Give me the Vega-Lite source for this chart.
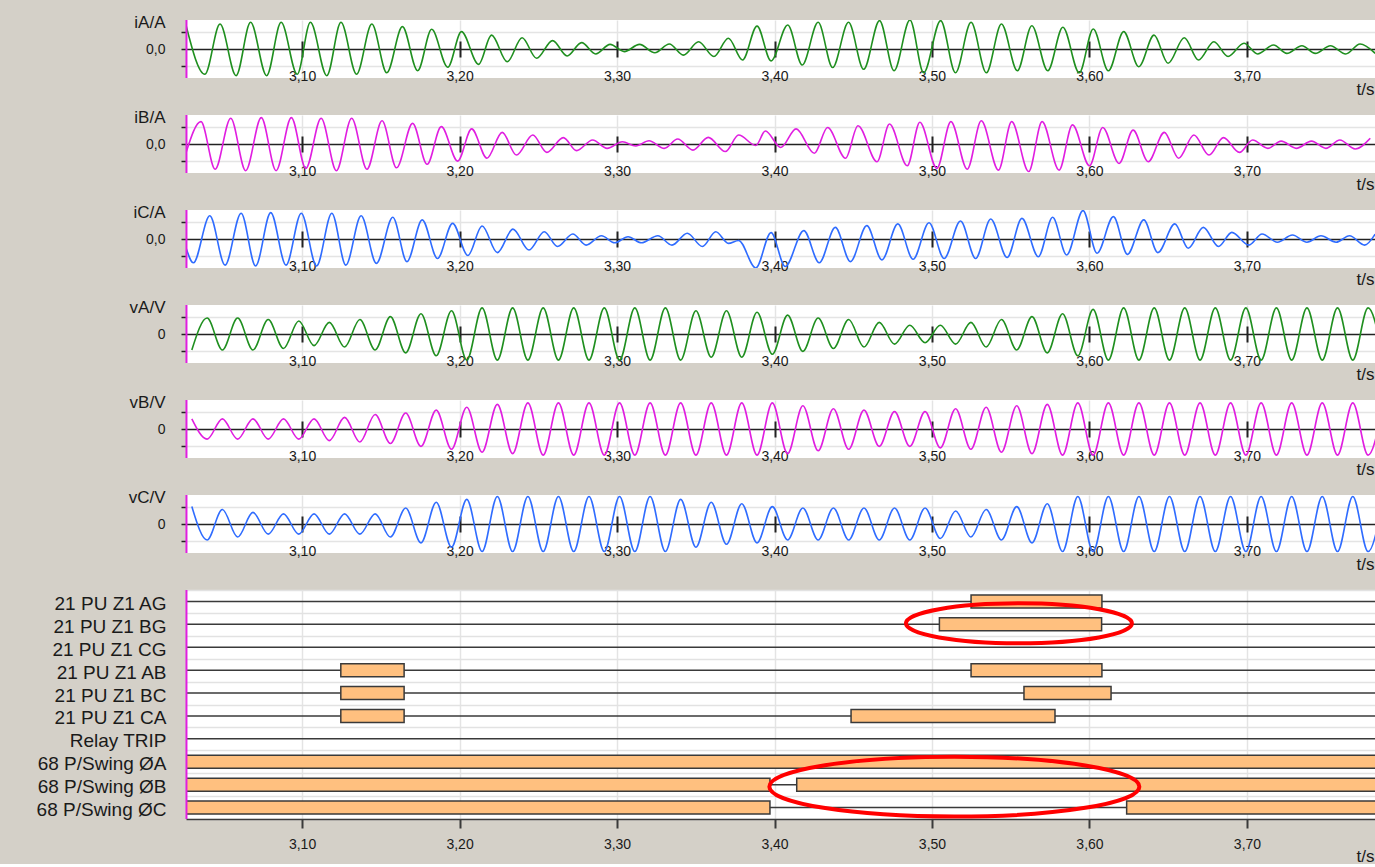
{
"$schema": "https://vega.github.io/schema/vega-lite/v6.json",
"background": "#d4d0c8",
"padding": {"left": 36, "top": 13, "right": 0, "bottom": 0},
"autosize": {"type": "pad"},
"bounds": "flush",
"spacing": 37,
"config": {
  "font": "Liberation Sans",
  "view": {"fill": "white", "stroke": null},
  "axis": {"labelColor": "#1a1a1a", "titleColor": "#1a1a1a", "titleFontWeight": "normal", "labelFont": "Liberation Sans", "titleFont": "Liberation Sans"}
},
"datasets": {
  "cursor": [{"t": 3.0266}],
  "iA": [{"t":3.0263,"v":0.82},{"t":3.0383,"v":-0.87},{"t":3.0479,"v":0.86},{"t":3.0581,"v":-0.92},{"t":3.0673,"v":0.92},{"t":3.0775,"v":-0.92},{"t":3.0867,"v":0.92},{"t":3.0969,"v":-0.87},{"t":3.1053,"v":0.92},{"t":3.1157,"v":-0.92},{"t":3.1247,"v":0.92},{"t":3.1346,"v":-0.87},{"t":3.1443,"v":0.86},{"t":3.1538,"v":-0.82},{"t":3.1637,"v":0.77},{"t":3.1734,"v":-0.75},{"t":3.1823,"v":0.68},{"t":3.1925,"v":-0.63},{"t":3.2012,"v":0.6},{"t":3.2121,"v":-0.53},{"t":3.2203,"v":0.48},{"t":3.2303,"v":-0.44},{"t":3.2397,"v":0.39},{"t":3.2489,"v":-0.32},{"t":3.2591,"v":0.29},{"t":3.2683,"v":-0.24},{"t":3.2775,"v":0.22},{"t":3.2864,"v":-0.17},{"t":3.2956,"v":0.16},{"t":3.3046,"v":-0.09},{"t":3.3143,"v":0.16},{"t":3.324,"v":-0.13},{"t":3.3332,"v":0.17},{"t":3.3421,"v":-0.21},{"t":3.3518,"v":0.25},{"t":3.3615,"v":-0.26},{"t":3.3707,"v":0.37},{"t":3.3797,"v":-0.38},{"t":3.3889,"v":0.79},{"t":3.3978,"v":-0.41},{"t":3.4084,"v":0.83},{"t":3.4176,"v":-0.55},{"t":3.4277,"v":0.92},{"t":3.4369,"v":-0.64},{"t":3.447,"v":0.92},{"t":3.4566,"v":-0.7},{"t":3.4667,"v":0.98},{"t":3.4759,"v":-0.75},{"t":3.486,"v":1.0},{"t":3.4947,"v":-0.82},{"t":3.5055,"v":0.98},{"t":3.5149,"v":-0.82},{"t":3.5248,"v":0.92},{"t":3.5345,"v":-0.82},{"t":3.5441,"v":0.86},{"t":3.5542,"v":-0.75},{"t":3.5634,"v":0.8},{"t":3.5735,"v":-0.75},{"t":3.5831,"v":0.75},{"t":3.5935,"v":-0.82},{"t":3.6024,"v":0.69},{"t":3.612,"v":-0.75},{"t":3.6217,"v":0.6},{"t":3.6313,"v":-0.61},{"t":3.641,"v":0.48},{"t":3.6499,"v":-0.49},{"t":3.6602,"v":0.39},{"t":3.6692,"v":-0.38},{"t":3.679,"v":0.25},{"t":3.688,"v":-0.26},{"t":3.6981,"v":0.2},{"t":3.7067,"v":-0.17},{"t":3.7169,"v":0.14},{"t":3.7253,"v":-0.15},{"t":3.7349,"v":0.11},{"t":3.7434,"v":-0.15},{"t":3.753,"v":0.11},{"t":3.7627,"v":-0.17},{"t":3.7718,"v":0.17},{"t":3.7814,"v":-0.15}],
  "iB": [{"t":3.0263,"v":-0.3},{"t":3.0358,"v":0.77},{"t":3.0448,"v":-0.87},{"t":3.0547,"v":0.89},{"t":3.0642,"v":-0.92},{"t":3.0741,"v":0.91},{"t":3.0835,"v":-0.92},{"t":3.0932,"v":0.91},{"t":3.1024,"v":-0.84},{"t":3.1121,"v":0.89},{"t":3.1218,"v":-0.92},{"t":3.1315,"v":0.89},{"t":3.1412,"v":-0.87},{"t":3.1508,"v":0.8},{"t":3.16,"v":-0.82},{"t":3.1702,"v":0.71},{"t":3.1794,"v":-0.7},{"t":3.1884,"v":0.6},{"t":3.1988,"v":-0.59},{"t":3.2077,"v":0.52},{"t":3.2174,"v":-0.49},{"t":3.2271,"v":0.4},{"t":3.2361,"v":-0.38},{"t":3.2465,"v":0.31},{"t":3.2554,"v":-0.29},{"t":3.2659,"v":0.22},{"t":3.2743,"v":-0.23},{"t":3.2845,"v":0.14},{"t":3.2937,"v":-0.15},{"t":3.3034,"v":0.08},{"t":3.3119,"v":-0.07},{"t":3.3203,"v":0.11},{"t":3.33,"v":-0.15},{"t":3.3385,"v":0.17},{"t":3.3482,"v":-0.21},{"t":3.3579,"v":0.23},{"t":3.3688,"v":-0.26},{"t":3.3772,"v":0.31},{"t":3.3881,"v":-0.05},{"t":3.3942,"v":0.45},{"t":3.404,"v":-0.12},{"t":3.4137,"v":0.52},{"t":3.4253,"v":-0.32},{"t":3.4337,"v":0.57},{"t":3.4451,"v":-0.49},{"t":3.453,"v":0.63},{"t":3.4651,"v":-0.61},{"t":3.473,"v":0.69},{"t":3.4843,"v":-0.75},{"t":3.4923,"v":0.75},{"t":3.5031,"v":-0.84},{"t":3.512,"v":0.77},{"t":3.5224,"v":-0.87},{"t":3.5313,"v":0.8},{"t":3.5422,"v":-0.9},{"t":3.5506,"v":0.77},{"t":3.5614,"v":-0.95},{"t":3.5699,"v":0.77},{"t":3.5807,"v":-0.9},{"t":3.5892,"v":0.66},{"t":3.6,"v":-0.75},{"t":3.6084,"v":0.57},{"t":3.6188,"v":-0.67},{"t":3.6277,"v":0.48},{"t":3.6373,"v":-0.61},{"t":3.6475,"v":0.4},{"t":3.6566,"v":-0.49},{"t":3.6663,"v":0.31},{"t":3.6759,"v":-0.38},{"t":3.6851,"v":0.22},{"t":3.6952,"v":-0.29},{"t":3.7036,"v":0.14},{"t":3.7133,"v":-0.15},{"t":3.7217,"v":0.1},{"t":3.7313,"v":-0.15},{"t":3.741,"v":0.1},{"t":3.7501,"v":-0.15},{"t":3.759,"v":0.14},{"t":3.7687,"v":-0.17},{"t":3.7783,"v":0.2}],
  "iC": [{"t":3.0263,"v":-0.3},{"t":3.031,"v":-0.82},{"t":3.0414,"v":0.8},{"t":3.0511,"v":-0.9},{"t":3.0613,"v":0.89},{"t":3.0705,"v":-0.93},{"t":3.0801,"v":0.91},{"t":3.0898,"v":-0.9},{"t":3.0995,"v":0.89},{"t":3.1092,"v":-0.93},{"t":3.1189,"v":0.89},{"t":3.1278,"v":-0.9},{"t":3.1375,"v":0.8},{"t":3.1472,"v":-0.84},{"t":3.1576,"v":0.75},{"t":3.1666,"v":-0.78},{"t":3.1763,"v":0.66},{"t":3.186,"v":-0.67},{"t":3.1956,"v":0.54},{"t":3.2053,"v":-0.57},{"t":3.2143,"v":0.45},{"t":3.224,"v":-0.47},{"t":3.2339,"v":0.34},{"t":3.2441,"v":-0.38},{"t":3.2538,"v":0.25},{"t":3.2622,"v":-0.26},{"t":3.2719,"v":0.17},{"t":3.2804,"v":-0.21},{"t":3.2901,"v":0.11},{"t":3.2985,"v":-0.13},{"t":3.307,"v":0.08},{"t":3.3155,"v":-0.13},{"t":3.3259,"v":0.11},{"t":3.3349,"v":-0.21},{"t":3.3446,"v":0.2},{"t":3.3542,"v":-0.26},{"t":3.3627,"v":0.25},{"t":3.3707,"v":-0.15},{"t":3.3772,"v":-0.05},{"t":3.3881,"v":-1.0},{"t":3.3978,"v":0.22},{"t":3.4068,"v":-0.95},{"t":3.4186,"v":0.29},{"t":3.4284,"v":-0.82},{"t":3.4386,"v":0.4},{"t":3.4482,"v":-0.78},{"t":3.4586,"v":0.46},{"t":3.4682,"v":-0.72},{"t":3.4783,"v":0.52},{"t":3.488,"v":-0.7},{"t":3.4981,"v":0.56},{"t":3.5077,"v":-0.67},{"t":3.5181,"v":0.62},{"t":3.5277,"v":-0.67},{"t":3.5373,"v":0.69},{"t":3.5477,"v":-0.64},{"t":3.5571,"v":0.71},{"t":3.5675,"v":-0.61},{"t":3.5766,"v":0.75},{"t":3.5855,"v":-0.55},{"t":3.5959,"v":0.98},{"t":3.6048,"v":-0.49},{"t":3.6152,"v":0.77},{"t":3.6241,"v":-0.53},{"t":3.6345,"v":0.66},{"t":3.6434,"v":-0.47},{"t":3.6542,"v":0.52},{"t":3.6627,"v":-0.32},{"t":3.6723,"v":0.4},{"t":3.6819,"v":-0.26},{"t":3.6904,"v":0.23},{"t":3.7012,"v":-0.21},{"t":3.7096,"v":0.17},{"t":3.7193,"v":-0.11},{"t":3.7289,"v":0.14},{"t":3.7381,"v":-0.11},{"t":3.747,"v":0.11},{"t":3.7566,"v":-0.11},{"t":3.7651,"v":0.11},{"t":3.7747,"v":-0.21},{"t":3.7814,"v":0.17}],
  "volt": [{"t":3.03,"a":-0.55,"b":0.35,"c":0.6},{"t":3.0397,"a":0.55,"b":-0.35,"c":-0.55},{"t":3.0494,"a":-0.55,"b":0.35,"c":0.5},{"t":3.0591,"a":0.55,"b":-0.35,"c":-0.45},{"t":3.0688,"a":-0.55,"b":0.35,"c":0.4},{"t":3.0785,"a":0.5,"b":-0.35,"c":-0.35},{"t":3.0882,"a":-0.5,"b":0.35,"c":0.35},{"t":3.0979,"a":0.45,"b":-0.35,"c":-0.35},{"t":3.1076,"a":-0.4,"b":0.35,"c":0.35},{"t":3.1173,"a":0.4,"b":-0.4,"c":-0.35},{"t":3.127,"a":-0.45,"b":0.4,"c":0.35},{"t":3.1367,"a":0.5,"b":-0.45,"c":-0.35},{"t":3.1464,"a":-0.55,"b":0.5,"c":0.35},{"t":3.1561,"a":0.6,"b":-0.5,"c":-0.45},{"t":3.1658,"a":-0.65,"b":0.55,"c":0.55},{"t":3.1755,"a":0.7,"b":-0.6,"c":-0.65},{"t":3.1852,"a":-0.75,"b":0.65,"c":0.75},{"t":3.1949,"a":0.8,"b":-0.7,"c":-0.8},{"t":3.2046,"a":-0.9,"b":0.75,"c":0.85},{"t":3.2143,"a":0.9,"b":-0.8,"c":-0.95},{"t":3.224,"a":-0.9,"b":0.85,"c":0.95},{"t":3.2337,"a":0.9,"b":-0.85,"c":-0.95},{"t":3.2434,"a":-0.9,"b":0.9,"c":0.95},{"t":3.2531,"a":0.9,"b":-0.9,"c":-0.95},{"t":3.2628,"a":-0.9,"b":0.9,"c":0.95},{"t":3.2725,"a":0.9,"b":-0.9,"c":-0.95},{"t":3.2822,"a":-0.9,"b":0.9,"c":0.95},{"t":3.2919,"a":0.9,"b":-0.9,"c":-0.95},{"t":3.3016,"a":-0.9,"b":0.9,"c":0.95},{"t":3.3113,"a":0.9,"b":-0.9,"c":-0.95},{"t":3.321,"a":-0.9,"b":0.9,"c":0.95},{"t":3.3307,"a":0.9,"b":-0.9,"c":-0.95},{"t":3.3404,"a":-0.9,"b":0.9,"c":0.85},{"t":3.3501,"a":0.8,"b":-0.9,"c":-0.8},{"t":3.3598,"a":-0.8,"b":0.9,"c":0.75},{"t":3.3695,"a":0.8,"b":-0.9,"c":-0.7},{"t":3.3792,"a":-0.8,"b":0.9,"c":0.7},{"t":3.3889,"a":0.75,"b":-0.9,"c":-0.65},{"t":3.3986,"a":-0.7,"b":0.9,"c":0.6},{"t":3.4083,"a":0.65,"b":-0.85,"c":-0.55},{"t":3.418,"a":-0.6,"b":0.8,"c":0.55},{"t":3.4277,"a":0.55,"b":-0.75,"c":-0.55},{"t":3.4374,"a":-0.5,"b":0.7,"c":0.55},{"t":3.4471,"a":0.5,"b":-0.7,"c":-0.55},{"t":3.4568,"a":-0.45,"b":0.65,"c":0.55},{"t":3.4665,"a":0.4,"b":-0.6,"c":-0.55},{"t":3.4762,"a":-0.35,"b":0.6,"c":0.55},{"t":3.4859,"a":0.3,"b":-0.6,"c":-0.55},{"t":3.4956,"a":-0.3,"b":0.6,"c":0.55},{"t":3.5053,"a":0.3,"b":-0.65,"c":-0.5},{"t":3.515,"a":-0.35,"b":0.7,"c":0.45},{"t":3.5247,"a":0.4,"b":-0.7,"c":-0.45},{"t":3.5344,"a":-0.45,"b":0.75,"c":0.5},{"t":3.5441,"a":0.5,"b":-0.8,"c":-0.55},{"t":3.5538,"a":-0.55,"b":0.8,"c":0.6},{"t":3.5635,"a":0.6,"b":-0.85,"c":-0.65},{"t":3.5732,"a":-0.65,"b":0.85,"c":0.7},{"t":3.5829,"a":0.7,"b":-0.9,"c":-0.95},{"t":3.5926,"a":-0.75,"b":0.9,"c":0.95},{"t":3.6023,"a":0.85,"b":-0.9,"c":-0.95},{"t":3.612,"a":-0.9,"b":0.9,"c":0.95},{"t":3.6217,"a":0.9,"b":-0.9,"c":-0.95},{"t":3.6314,"a":-0.9,"b":0.9,"c":0.95},{"t":3.6411,"a":0.9,"b":-0.9,"c":-0.95},{"t":3.6508,"a":-0.9,"b":0.9,"c":0.95},{"t":3.6605,"a":0.9,"b":-0.9,"c":-0.95},{"t":3.6702,"a":-0.9,"b":0.9,"c":0.95},{"t":3.6799,"a":0.9,"b":-0.9,"c":-0.95},{"t":3.6896,"a":-0.9,"b":0.9,"c":0.95},{"t":3.6993,"a":0.9,"b":-0.9,"c":-0.95},{"t":3.709,"a":-0.9,"b":0.9,"c":0.95},{"t":3.7187,"a":0.9,"b":-0.9,"c":-0.95},{"t":3.7284,"a":-0.9,"b":0.9,"c":0.95},{"t":3.7381,"a":0.9,"b":-0.9,"c":-0.95},{"t":3.7478,"a":-0.9,"b":0.9,"c":0.95},{"t":3.7575,"a":0.9,"b":-0.9,"c":-0.95},{"t":3.7672,"a":-0.9,"b":0.9,"c":0.95},{"t":3.7769,"a":0.9,"b":-0.9,"c":-0.95},{"t":3.7866,"a":-0.9,"b":0.9,"c":0.95}],
  "rows": [{"ch":"21 PU Z1 AG"},{"ch":"21 PU Z1 BG"},{"ch":"21 PU Z1 CG"},{"ch":"21 PU Z1 AB"},{"ch":"21 PU Z1 BC"},{"ch":"21 PU Z1 CA"},{"ch":"Relay TRIP"},{"ch":"68 P/Swing ØA"},{"ch":"68 P/Swing ØB"},{"ch":"68 P/Swing ØC"}],
  "dig": [
    {"ch":"21 PU Z1 AG","t0":3.5248,"t1":3.6079},
    {"ch":"21 PU Z1 BG","t0":3.5047,"t1":3.6077},
    {"ch":"21 PU Z1 AB","t0":3.1246,"t1":3.1648},
    {"ch":"21 PU Z1 AB","t0":3.5248,"t1":3.6079},
    {"ch":"21 PU Z1 BC","t0":3.1246,"t1":3.1648},
    {"ch":"21 PU Z1 BC","t0":3.5584,"t1":3.6137},
    {"ch":"21 PU Z1 CA","t0":3.1246,"t1":3.1648},
    {"ch":"21 PU Z1 CA","t0":3.4486,"t1":3.5781},
    {"ch":"68 P/Swing ØA","t0":3.02,"t1":3.79},
    {"ch":"68 P/Swing ØB","t0":3.02,"t1":3.3971},
    {"ch":"68 P/Swing ØB","t0":3.4141,"t1":3.79},
    {"ch":"68 P/Swing ØC","t0":3.02,"t1":3.3971},
    {"ch":"68 P/Swing ØC","t0":3.6236,"t1":3.79}
  ],
  "ell1": [{"t":3.5552,"ch":"21 PU Z1 BG"}],
  "ell2": [{"t":3.5142,"ch":"68 P/Swing ØB"}]
},
"vconcat": [
  {"width":1189,"height":58,"layer":[
    {"data":{"name":"iA"},"mark":{"type":"line","interpolate":"monotone","color":"#1f8f1f","strokeWidth":1.6,"clip":true},
     "encoding":{
      "x":{"field":"t","type":"quantitative","scale":{"domain":[3.0263,3.7813],"nice":false,"zero":false},
        "axis":{"values":[3.1,3.2,3.3,3.4,3.5,3.6,3.7],"labelExpr":"replace(format(datum.value,'.2f'),'.',',')","orient":"bottom","offset":-37,"domain":false,"tickSize":16,"tickWidth":2,"tickColor":"#222222","labelFontSize":14,"labelPadding":12,"grid":true,"gridColor":"#e4e4e4","gridWidth":1.5,"title":"t/s","titleFontSize":17,"titleAlign":"right","titleAnchor":"end","titleX":1188,"titleY":48,"titleBaseline":"middle"}},
      "y":{"field":"v","type":"quantitative","scale":{"domain":[-1,1],"nice":false,"zero":false},
        "axis":{"values":[-0.59,0,0.59],"labelExpr":"datum.value === 0 ? '0,0' : ''","domain":false,"tickSize":5,"tickWidth":1.5,"tickColor":"#222222","labelFontSize":14,"labelPadding":16,"grid":true,"gridColor":{"condition":{"test":"datum.value === 0","value":"#222222"},"value":"#e4e4e4"},"gridWidth":1.6,"title":"iA/A","titleAngle":0,"titleAlign":"right","titleBaseline":"middle","titleX":-21,"titleY":2,"titleFontSize":17}}
     }},
    {"data":{"name":"cursor"},"mark":{"type":"rule","color":"#e01ee0","strokeWidth":2},"encoding":{"x":{"field":"t","type":"quantitative","scale":{"domain":[3.0263,3.7813],"nice":false,"zero":false}}}}
  ]},
  {"width":1189,"height":58,"layer":[
    {"data":{"name":"iB"},"mark":{"type":"line","interpolate":"monotone","color":"#e01ee0","strokeWidth":1.6,"clip":true},
     "encoding":{
      "x":{"field":"t","type":"quantitative","scale":{"domain":[3.0263,3.7813],"nice":false,"zero":false},
        "axis":{"values":[3.1,3.2,3.3,3.4,3.5,3.6,3.7],"labelExpr":"replace(format(datum.value,'.2f'),'.',',')","orient":"bottom","offset":-37,"domain":false,"tickSize":16,"tickWidth":2,"tickColor":"#222222","labelFontSize":14,"labelPadding":12,"grid":true,"gridColor":"#e4e4e4","gridWidth":1.5,"title":"t/s","titleFontSize":17,"titleAlign":"right","titleAnchor":"end","titleX":1188,"titleY":48,"titleBaseline":"middle"}},
      "y":{"field":"v","type":"quantitative","scale":{"domain":[-1,1],"nice":false,"zero":false},
        "axis":{"values":[-0.59,0,0.59],"labelExpr":"datum.value === 0 ? '0,0' : ''","domain":false,"tickSize":5,"tickWidth":1.5,"tickColor":"#222222","labelFontSize":14,"labelPadding":16,"grid":true,"gridColor":{"condition":{"test":"datum.value === 0","value":"#222222"},"value":"#e4e4e4"},"gridWidth":1.6,"title":"iB/A","titleAngle":0,"titleAlign":"right","titleBaseline":"middle","titleX":-21,"titleY":2,"titleFontSize":17}}
     }},
    {"data":{"name":"cursor"},"mark":{"type":"rule","color":"#e01ee0","strokeWidth":2},"encoding":{"x":{"field":"t","type":"quantitative","scale":{"domain":[3.0263,3.7813],"nice":false,"zero":false}}}}
  ]},
  {"width":1189,"height":58,"layer":[
    {"data":{"name":"iC"},"mark":{"type":"line","interpolate":"monotone","color":"#2f6cff","strokeWidth":1.6,"clip":true},
     "encoding":{
      "x":{"field":"t","type":"quantitative","scale":{"domain":[3.0263,3.7813],"nice":false,"zero":false},
        "axis":{"values":[3.1,3.2,3.3,3.4,3.5,3.6,3.7],"labelExpr":"replace(format(datum.value,'.2f'),'.',',')","orient":"bottom","offset":-37,"domain":false,"tickSize":16,"tickWidth":2,"tickColor":"#222222","labelFontSize":14,"labelPadding":12,"grid":true,"gridColor":"#e4e4e4","gridWidth":1.5,"title":"t/s","titleFontSize":17,"titleAlign":"right","titleAnchor":"end","titleX":1188,"titleY":48,"titleBaseline":"middle"}},
      "y":{"field":"v","type":"quantitative","scale":{"domain":[-1,1],"nice":false,"zero":false},
        "axis":{"values":[-0.59,0,0.59],"labelExpr":"datum.value === 0 ? '0,0' : ''","domain":false,"tickSize":5,"tickWidth":1.5,"tickColor":"#222222","labelFontSize":14,"labelPadding":16,"grid":true,"gridColor":{"condition":{"test":"datum.value === 0","value":"#222222"},"value":"#e4e4e4"},"gridWidth":1.6,"title":"iC/A","titleAngle":0,"titleAlign":"right","titleBaseline":"middle","titleX":-21,"titleY":2,"titleFontSize":17}}
     }},
    {"data":{"name":"cursor"},"mark":{"type":"rule","color":"#e01ee0","strokeWidth":2},"encoding":{"x":{"field":"t","type":"quantitative","scale":{"domain":[3.0263,3.7813],"nice":false,"zero":false}}}}
  ]},
  {"width":1189,"height":58,"layer":[
    {"data":{"name":"volt"},"mark":{"type":"line","interpolate":"monotone","color":"#1f8f1f","strokeWidth":1.6,"clip":true},
     "encoding":{
      "x":{"field":"t","type":"quantitative","scale":{"domain":[3.0263,3.7813],"nice":false,"zero":false},
        "axis":{"values":[3.1,3.2,3.3,3.4,3.5,3.6,3.7],"labelExpr":"replace(format(datum.value,'.2f'),'.',',')","orient":"bottom","offset":-37,"domain":false,"tickSize":16,"tickWidth":2,"tickColor":"#222222","labelFontSize":14,"labelPadding":12,"grid":true,"gridColor":"#e4e4e4","gridWidth":1.5,"title":"t/s","titleFontSize":17,"titleAlign":"right","titleAnchor":"end","titleX":1188,"titleY":48,"titleBaseline":"middle"}},
      "y":{"field":"a","type":"quantitative","scale":{"domain":[-1,1],"nice":false,"zero":false},
        "axis":{"values":[-0.59,0,0.59],"labelExpr":"datum.value === 0 ? '0' : ''","domain":false,"tickSize":5,"tickWidth":1.5,"tickColor":"#222222","labelFontSize":14,"labelPadding":16,"grid":true,"gridColor":{"condition":{"test":"datum.value === 0","value":"#222222"},"value":"#e4e4e4"},"gridWidth":1.6,"title":"vA/V","titleAngle":0,"titleAlign":"right","titleBaseline":"middle","titleX":-21,"titleY":2,"titleFontSize":17}}
     }},
    {"data":{"name":"cursor"},"mark":{"type":"rule","color":"#e01ee0","strokeWidth":2},"encoding":{"x":{"field":"t","type":"quantitative","scale":{"domain":[3.0263,3.7813],"nice":false,"zero":false}}}}
  ]},
  {"width":1189,"height":58,"layer":[
    {"data":{"name":"volt"},"mark":{"type":"line","interpolate":"monotone","color":"#e01ee0","strokeWidth":1.6,"clip":true},
     "encoding":{
      "x":{"field":"t","type":"quantitative","scale":{"domain":[3.0263,3.7813],"nice":false,"zero":false},
        "axis":{"values":[3.1,3.2,3.3,3.4,3.5,3.6,3.7],"labelExpr":"replace(format(datum.value,'.2f'),'.',',')","orient":"bottom","offset":-37,"domain":false,"tickSize":16,"tickWidth":2,"tickColor":"#222222","labelFontSize":14,"labelPadding":12,"grid":true,"gridColor":"#e4e4e4","gridWidth":1.5,"title":"t/s","titleFontSize":17,"titleAlign":"right","titleAnchor":"end","titleX":1188,"titleY":48,"titleBaseline":"middle"}},
      "y":{"field":"b","type":"quantitative","scale":{"domain":[-1,1],"nice":false,"zero":false},
        "axis":{"values":[-0.59,0,0.59],"labelExpr":"datum.value === 0 ? '0' : ''","domain":false,"tickSize":5,"tickWidth":1.5,"tickColor":"#222222","labelFontSize":14,"labelPadding":16,"grid":true,"gridColor":{"condition":{"test":"datum.value === 0","value":"#222222"},"value":"#e4e4e4"},"gridWidth":1.6,"title":"vB/V","titleAngle":0,"titleAlign":"right","titleBaseline":"middle","titleX":-21,"titleY":2,"titleFontSize":17}}
     }},
    {"data":{"name":"cursor"},"mark":{"type":"rule","color":"#e01ee0","strokeWidth":2},"encoding":{"x":{"field":"t","type":"quantitative","scale":{"domain":[3.0263,3.7813],"nice":false,"zero":false}}}}
  ]},
  {"width":1189,"height":58,"layer":[
    {"data":{"name":"volt"},"mark":{"type":"line","interpolate":"monotone","color":"#2f6cff","strokeWidth":1.6,"clip":true},
     "encoding":{
      "x":{"field":"t","type":"quantitative","scale":{"domain":[3.0263,3.7813],"nice":false,"zero":false},
        "axis":{"values":[3.1,3.2,3.3,3.4,3.5,3.6,3.7],"labelExpr":"replace(format(datum.value,'.2f'),'.',',')","orient":"bottom","offset":-37,"domain":false,"tickSize":16,"tickWidth":2,"tickColor":"#222222","labelFontSize":14,"labelPadding":12,"grid":true,"gridColor":"#e4e4e4","gridWidth":1.5,"title":"t/s","titleFontSize":17,"titleAlign":"right","titleAnchor":"end","titleX":1188,"titleY":48,"titleBaseline":"middle"}},
      "y":{"field":"c","type":"quantitative","scale":{"domain":[-1,1],"nice":false,"zero":false},
        "axis":{"values":[-0.59,0,0.59],"labelExpr":"datum.value === 0 ? '0' : ''","domain":false,"tickSize":5,"tickWidth":1.5,"tickColor":"#222222","labelFontSize":14,"labelPadding":16,"grid":true,"gridColor":{"condition":{"test":"datum.value === 0","value":"#222222"},"value":"#e4e4e4"},"gridWidth":1.6,"title":"vC/V","titleAngle":0,"titleAlign":"right","titleBaseline":"middle","titleX":-21,"titleY":2,"titleFontSize":17}}
     }},
    {"data":{"name":"cursor"},"mark":{"type":"rule","color":"#e01ee0","strokeWidth":2},"encoding":{"x":{"field":"t","type":"quantitative","scale":{"domain":[3.0263,3.7813],"nice":false,"zero":false}}}}
  ]},
  {"width":1189,"height":229,"layer":[
    {"data":{"name":"rows"},"mark":{"type":"rule","color":"#3a3a3a","strokeWidth":1.5},
     "encoding":{"y":{"field":"ch","type":"nominal","sort":null,
       "scale":{"type":"band","domain":["21 PU Z1 AG","21 PU Z1 BG","21 PU Z1 CG","21 PU Z1 AB","21 PU Z1 BC","21 PU Z1 CA","Relay TRIP","68 P/Swing ØA","68 P/Swing ØB","68 P/Swing ØC"],"paddingInner":0,"paddingOuter":0},
       "axis":{"title":null,"ticks":false,"domain":false,"labelFontSize":19,"labelPadding":20,"labelOffset":2,"grid":true,"gridColor":"#e2e2e2","gridWidth":1.5,"tickBand":"extent"}}}},
    {"data":{"name":"dig"},"mark":{"type":"bar","height":13,"fill":"#ffc07f","stroke":"#3a3a3a","strokeWidth":1.5,"clip":true},
     "encoding":{
      "x":{"field":"t0","type":"quantitative","scale":{"domain":[3.0263,3.7813],"nice":false,"zero":false},
        "axis":{"values":[3.1,3.2,3.3,3.4,3.5,3.6,3.7],"labelExpr":"replace(format(datum.value,'.2f'),'.',',')","domain":true,"domainColor":"#3a3a3a","domainWidth":1.5,"tickSize":9,"tickWidth":2,"tickColor":"#3a3a3a","labelFontSize":14,"labelPadding":9,"grid":true,"gridColor":"#e4e4e4","gridWidth":1.5,"title":"t/s","titleFontSize":17,"titleAlign":"right","titleAnchor":"end","titleX":1188,"titleY":37,"titleBaseline":"middle"}},
      "x2":{"field":"t1"},
      "y":{"field":"ch","type":"nominal","sort":null,"scale":{"type":"band","domain":["21 PU Z1 AG","21 PU Z1 BG","21 PU Z1 CG","21 PU Z1 AB","21 PU Z1 BC","21 PU Z1 CA","Relay TRIP","68 P/Swing ØA","68 P/Swing ØB","68 P/Swing ØC"],"paddingInner":0,"paddingOuter":0}}
     }},
    {"data":{"name":"cursor"},"mark":{"type":"rule","color":"#e01ee0","strokeWidth":2},"encoding":{"x":{"field":"t","type":"quantitative","scale":{"domain":[3.0263,3.7813],"nice":false,"zero":false}}}},
    {"data":{"name":"ell1"},"mark":{"type":"point","shape":"M-1,0C-1,-0.0978,-0.5523,-0.177,0,-0.177C0.5523,-0.177,1,-0.0978,1,0C1,0.0978,0.5523,0.177,0,0.177C-0.5523,0.177,-1,0.0978,-1,0Z","size":51076,"filled":false,"stroke":"#ff0000","strokeWidth":4,"opacity":1,"yOffset":-1},
     "encoding":{"x":{"field":"t","type":"quantitative","scale":{"domain":[3.0263,3.7813],"nice":false,"zero":false}},
       "y":{"field":"ch","type":"nominal","sort":null,"scale":{"type":"band","domain":["21 PU Z1 AG","21 PU Z1 BG","21 PU Z1 CG","21 PU Z1 AB","21 PU Z1 BC","21 PU Z1 CA","Relay TRIP","68 P/Swing ØA","68 P/Swing ØB","68 P/Swing ØC"],"paddingInner":0,"paddingOuter":0}}}},
    {"data":{"name":"ell2"},"mark":{"type":"point","shape":"M-1,0C-1,-0.0895,-0.5523,-0.162,0,-0.162C0.5523,-0.162,1,-0.0895,1,0C1,0.0895,0.5523,0.162,0,0.162C-0.5523,0.162,-1,0.0895,-1,0Z","size":136900,"filled":false,"stroke":"#ff0000","strokeWidth":4,"opacity":1,"yOffset":2},
     "encoding":{"x":{"field":"t","type":"quantitative","scale":{"domain":[3.0263,3.7813],"nice":false,"zero":false}},
       "y":{"field":"ch","type":"nominal","sort":null,"scale":{"type":"band","domain":["21 PU Z1 AG","21 PU Z1 BG","21 PU Z1 CG","21 PU Z1 AB","21 PU Z1 BC","21 PU Z1 CA","Relay TRIP","68 P/Swing ØA","68 P/Swing ØB","68 P/Swing ØC"],"paddingInner":0,"paddingOuter":0}}}}
  ]}
]
}
